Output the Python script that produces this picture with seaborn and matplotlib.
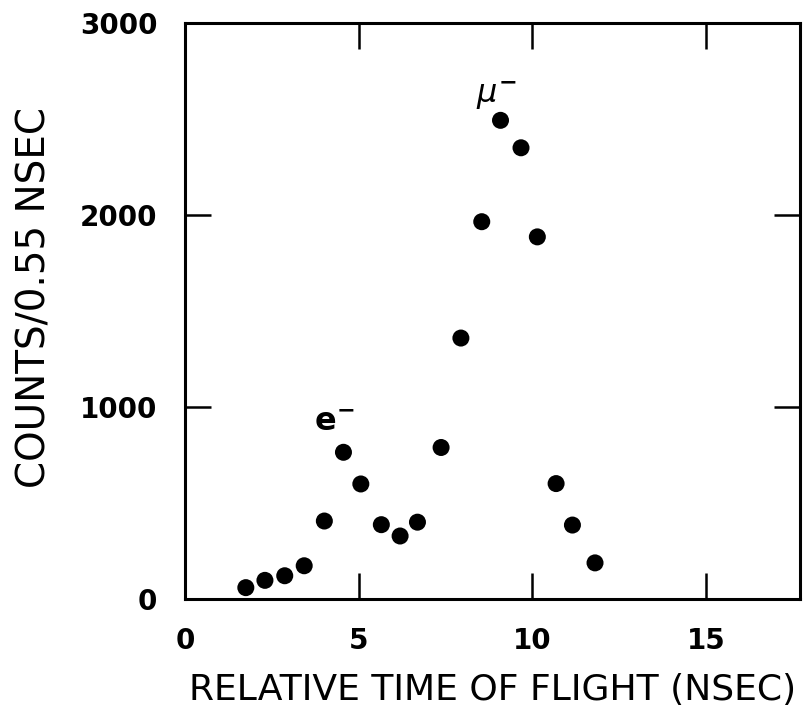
import matplotlib
matplotlib.use("Agg")
import matplotlib.pyplot as plt
import seaborn as sns
import pandas as pd

# Data
time_ns = [1.75, 2.30, 2.87, 3.43, 4.01, 4.56, 5.06, 5.65, 6.19, 6.69,
           7.37, 7.94, 8.54, 9.08, 9.67, 10.14, 10.68, 11.15, 11.80]
counts = [59, 97, 121, 173, 406, 764, 599, 387, 328, 400,
          789, 1359, 1965, 2493, 2350, 1886, 601, 385, 188]
x_ticks = [0, 5, 10, 15]
y_ticks = [0, 1000, 2000, 3000]
x_tick_labels = ["0", "5", "10", "15"]
y_tick_labels = ["0", "1000", "2000", "3000"]
annotations = [("$\\mu^{\\mathbf{-}}$", 8.95, 2625), ("e$^{\\mathbf{-}}$", 4.28, 922)]

sns.set_style("white")
plt.rcParams['font.family'] = ['DejaVu Sans']

df = pd.DataFrame({"t": time_ns, "c": counts})

fig = plt.figure(figsize=(8.09, 7.14), dpi=100)
ax = fig.add_axes([0.2287, 0.1611, 0.7602, 0.8067])

sns.scatterplot(data=df, x="t", y="c", ax=ax, color="black", s=150,
                edgecolor="none", linewidth=0, legend=False)

ax.set_xlim(0, 17.7)
ax.set_ylim(0, 3000)
ax.set_xticks(x_ticks)
ax.set_xticklabels(x_tick_labels)
ax.set_yticks(y_ticks)
ax.set_yticklabels(y_tick_labels)

for sp in ax.spines.values():
    sp.set_visible(True)
    sp.set_linewidth(2.2)
    sp.set_color("black")

ax.tick_params(axis="both", which="major", direction="in", length=19, width=1.8,
               bottom=True, left=True, top=True, right=True,
               labelbottom=True, labelleft=True, labeltop=False, labelright=False,
               labelsize=20, colors="black")
ax.tick_params(axis="y", pad=20)
ax.tick_params(axis="x", pad=20)
for lab in ax.get_xticklabels() + ax.get_yticklabels():
    lab.set_fontweight("bold")

ax.set_xlabel("RELATIVE TIME OF FLIGHT (NSEC)", fontsize=26, color="black")
ax.set_ylabel("COUNTS/0.55 NSEC", fontsize=28, color="black")
ax.xaxis.label.set_va("center")
ax.yaxis.label.set_va("center")
ax.xaxis.set_label_coords(0.5, -0.158)
ax.yaxis.set_label_coords(-0.244, 0.524)

for txt, x, y in annotations:
    ax.text(x, y, txt, fontsize=23, ha="center", va="center", color="black",
            fontweight="bold")

fig.savefig("out.png", dpi=100)
